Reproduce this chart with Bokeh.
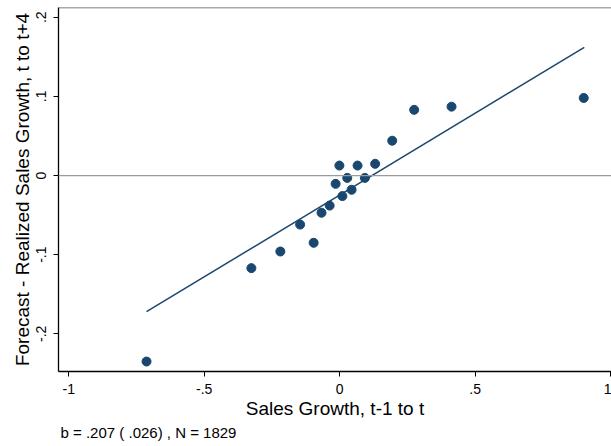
from bokeh.plotting import figure
from bokeh.models import FixedTicker, Span, Title
from bokeh.embed import file_html
from bokeh.resources import INLINE

# Binned scatter data
sales_growth = [-0.713, -0.326, -0.219, -0.146, -0.096, -0.067, -0.037, -0.015,
                -0.001, 0.010, 0.028, 0.044, 0.066, 0.093, 0.131, 0.194,
                0.275, 0.413, 0.901]
forecast_error = [-0.235, -0.117, -0.096, -0.062, -0.085, -0.047, -0.038, -0.0105,
                  0.0126, -0.026, -0.003, -0.018, 0.0126, -0.003, 0.0148, 0.044,
                  0.083, 0.087, 0.098]

# Fitted line end points
fit_x = [-0.713, 0.903]
fit_y = [-0.172, 0.162]

x_ticks = [-1, -0.5, 0, 0.5, 1]
x_tick_labels = ["-1", "-.5", "0", ".5", "1"]
y_ticks = [-0.2, -0.1, 0, 0.1, 0.2]
y_tick_labels = ["-.2", "-.1", "0", ".1", ".2"]

x_title = "Sales Growth, t-1 to t"
y_title = "Forecast - Realized Sales Growth, t to t+4"
note = "b = .207 ( .026) , N = 1829"

NAVY = "#1a476f"
FONT = "Liberation Sans"
Y_TOP, Y_BOTTOM = 0.2123, -0.2476

p = figure(width=611, height=446, output_backend="svg", toolbar_location=None,
           x_range=(-1.038, 1.0035), y_range=(Y_BOTTOM, Y_TOP),
           min_border_left=58, min_border_right=0, min_border_top=7, min_border_bottom=75)
p.outline_line_color = None
p.xgrid.visible = False
p.ygrid.visible = False
p.background_fill_color = "white"
p.border_fill_color = "white"

# top frame line
p.add_layout(Span(location=Y_TOP, dimension="width", line_color="#555555", line_width=1.5))
# zero reference line
p.add_layout(Span(location=0, dimension="width", line_color="#9a9a9a", line_width=1.3))

p.line(fit_x, fit_y, line_color=NAVY, line_width=1.5)
p.scatter(sales_growth, forecast_error, size=9, fill_color=NAVY, line_color=NAVY)

p.xaxis.ticker = FixedTicker(ticks=x_ticks)
p.xaxis.major_label_overrides = {t: l for t, l in zip(x_ticks, x_tick_labels)}
p.yaxis.ticker = FixedTicker(ticks=y_ticks)
p.yaxis.major_label_overrides = {t: l for t, l in zip(y_ticks, y_tick_labels)}
p.yaxis.major_label_orientation = "vertical"

for ax in (p.xaxis[0], p.yaxis[0]):
    ax.axis_line_color = "black"
    ax.axis_line_width = 1.3
    ax.major_tick_line_color = "black"
    ax.major_tick_out = 5
    ax.major_tick_in = 0
    ax.minor_tick_line_color = None
    ax.major_label_text_font = FONT
    ax.major_label_text_font_size = "14px"
    ax.major_label_text_color = "black"
    ax.axis_label_text_font = FONT
    ax.axis_label_text_font_size = "19px"
    ax.axis_label_text_font_style = "normal"
    ax.axis_label_text_color = "black"

p.xaxis.major_label_standoff = 7
p.xaxis.axis_label_standoff = 1
p.yaxis.major_label_standoff = 7
p.yaxis.axis_label_standoff = 1

p.xaxis.axis_label = x_title
p.yaxis.axis_label = y_title

p.add_layout(Title(text=note, align="left", offset=2, text_font=FONT,
                   text_font_size="15px", text_font_style="normal",
                   text_color="black", standoff=0), "below")

open("out.html", "w").write(file_html(p, INLINE))
